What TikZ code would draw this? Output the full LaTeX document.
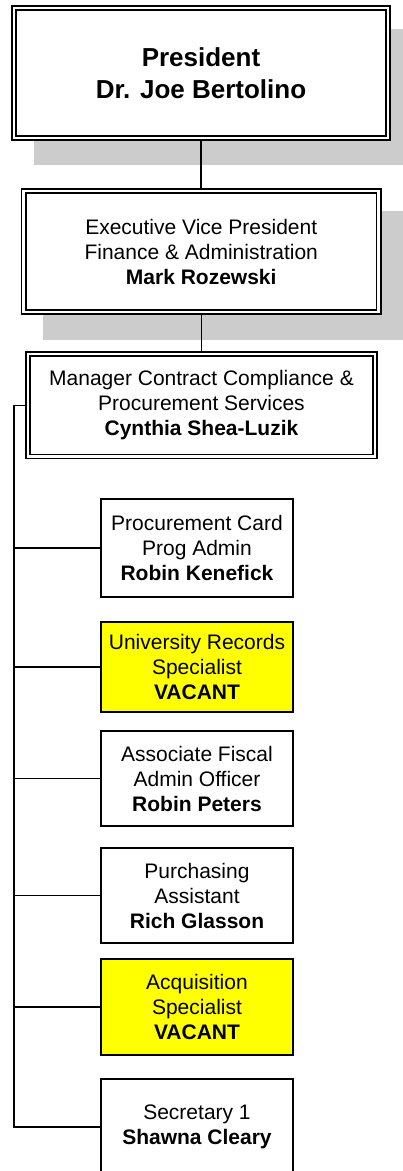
\documentclass[tikz,border=0pt]{standalone}
\usepackage{fontspec}
\setmainfont{Liberation Sans}
\usetikzlibrary{calc,backgrounds}
\pgfdeclarelayer{shadowlayer}
\pgfsetlayers{shadowlayer,background,main}
\definecolor{shadowgray}{HTML}{CCCCCC}
\definecolor{vacant}{HTML}{FFFF00}
\begin{document}
\begin{tikzpicture}[x=1pt,y=-1pt,
  dbox/.style={draw, double, double distance=2.6pt, line width=1.5pt, fill=white, inner sep=0pt, outer sep=0pt, align=center, font=\fontsize{21}{25}\selectfont},
  cbox/.style={draw, line width=1.4pt, fill=white, minimum width=192pt, inner sep=0pt, outer sep=0pt, align=center, font=\fontsize{21}{25}\selectfont},
  vac/.style={fill=vacant},
  link/.style={line width=1.5pt},
  shade/.style={fill=shadowgray}]
\clip (0,0) rectangle (402,1171);

\node[dbox, minimum width=374pt, minimum height=130pt, font=\bfseries\fontsize{26}{32}\selectfont] (pres) at (201,73) {President\\Dr. Joe Bertolino};
\node[dbox, minimum width=355pt, minimum height=121pt] (evp) at (201.25,251.5) {Executive Vice President\\Finance \& Administration\\\textbf{Mark Rozewski}};
\node[dbox, minimum width=347pt, minimum height=102.5pt] (mgr) at (201.5,405.25) {Manager Contract Compliance \&\\Procurement Services\\\textbf{Cynthia Shea-Luzik}};

\node[cbox, minimum height=98pt] (proc) at (197,548) {Procurement Card\\Prog Admin\\\textbf{Robin Kenefick}};
\node[cbox, vac, minimum height=90pt] (univ) at (197,667) {University Records\\Specialist\\\textbf{VACANT}};
\node[cbox, minimum height=95pt] (assoc) at (197,778.5) {Associate Fiscal\\Admin Officer\\\textbf{Robin Peters}};
\node[cbox, minimum height=95pt] (purch) at (197,895.5) {Purchasing\\Assistant\\\textbf{Rich Glasson}};
\node[cbox, vac, minimum height=96pt] (acq) at (197,1007) {Acquisition\\Specialist\\\textbf{VACANT}};
\node[cbox, minimum height=96pt] (sec) at (197,1127) {Secretary 1\\\textbf{Shawna Cleary}};

\begin{pgfonlayer}{shadowlayer}
\fill[shade] ($(pres.north west)+(20,21)$) rectangle ($(pres.south east)+(26,27)$);
\fill[shade] ($(evp.north west)+(19.5,20)$) rectangle ($(evp.south east)+(25,28)$);
\end{pgfonlayer}

\begin{scope}[on background layer]
\draw[link] (pres.south) -- (pres.south |- evp.north);
\draw[link] (evp.south) -- (evp.south |- mgr.north);
\coordinate (bus) at (14,405.25);
\draw[link] (mgr.west) -- (bus) |- (sec.west);
\foreach \n in {proc,univ,assoc,purch,acq} \draw[link] (\n.west) -- (\n.west -| bus);
\end{scope}
\end{tikzpicture}
\end{document}
